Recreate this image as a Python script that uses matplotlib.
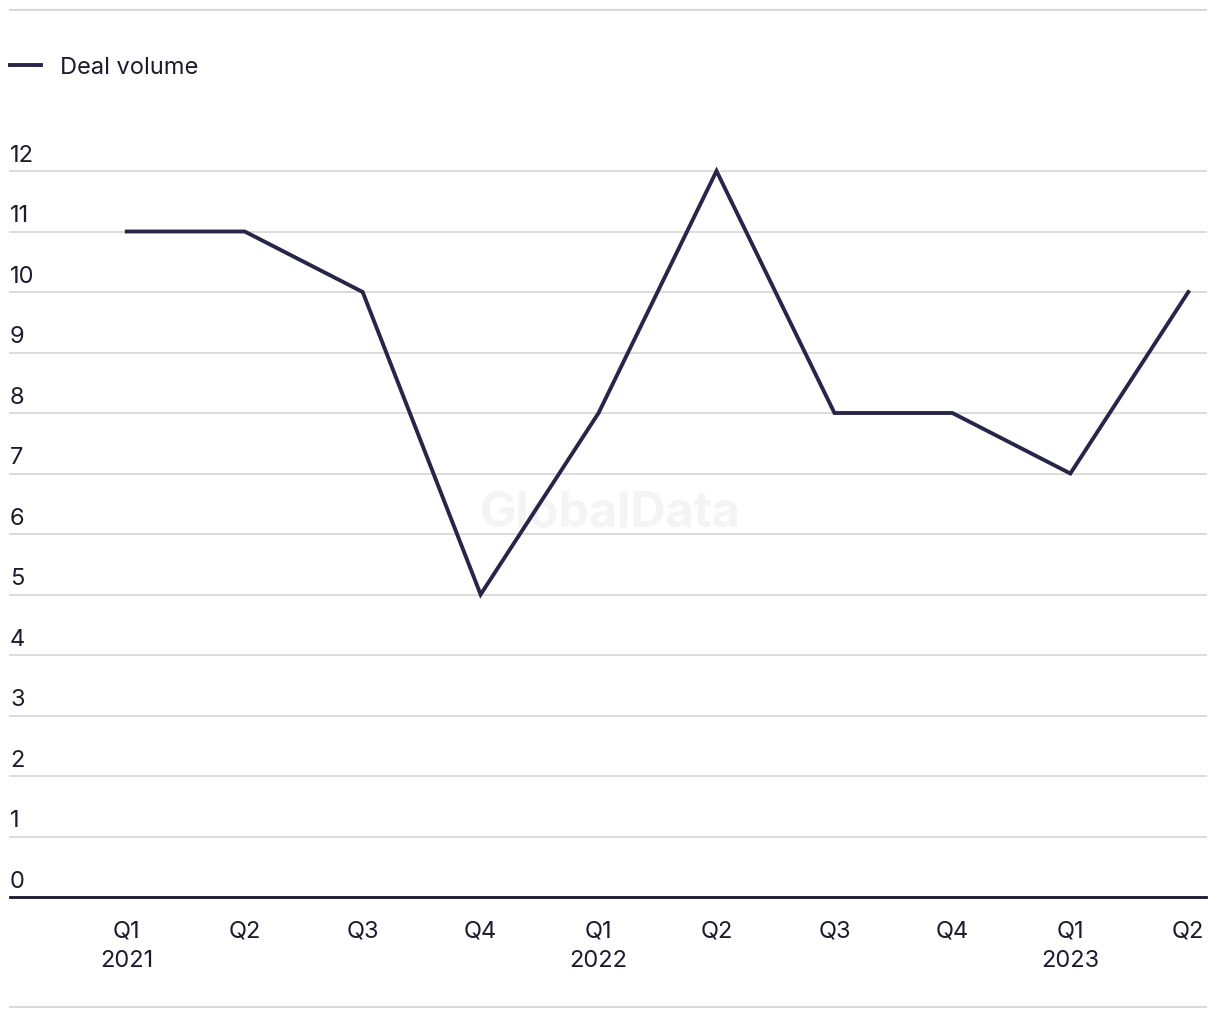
import matplotlib.pyplot as plt
from matplotlib.lines import Line2D
from matplotlib import transforms

plt.rcParams["font.family"] = ["Inter", "DejaVu Sans"]

quarters = ["Q1\n2021", "Q2", "Q3", "Q4", "Q1\n2022", "Q2", "Q3", "Q4", "Q1\n2023", "Q2"]
deal_volume = [11, 11, 10, 5, 8, 12, 8, 8, 7, 10]
y_ticks = list(range(0, 13))

line_color = "#27264a"
grid_color = "#d9d9d9"
text_color = "#1c1c2e"

W, H = 1220, 1020
fig = plt.figure(figsize=(W / 100, H / 100), dpi=100)
ax = fig.add_axes([10 / W, (H - 898) / H, (1206 - 10) / W, (898 - 172) / H])

x = list(range(len(quarters)))

# gridlines
for t in y_ticks[1:]:
    ax.axhline(t, color=grid_color, lw=1.3, zorder=1, clip_on=False)
ax.axhline(0, color="#16162a", lw=2, zorder=3, clip_on=False)

ax.plot(x, deal_volume, color=line_color, lw=2.8, zorder=4,
        solid_joinstyle="miter", clip_on=False, label="Deal volume")

ax.set_xlim(-0.99, 9.15)
ax.set_ylim(0, 12)

# y tick labels above the gridlines
trans = transforms.blended_transform_factory(ax.transAxes, ax.transData)
for t in y_ticks:
    ax.annotate(str(t), xy=(0, t), xycoords=trans, xytext=(0, 3.8),
                textcoords="offset points", ha="left", va="bottom",
                fontsize=17, color=text_color)
ax.set_yticks([])

ax.set_xticks(x)
ax.set_xticklabels(quarters, fontsize=17, color=text_color, linespacing=1.45)
ax.tick_params(axis="x", length=0, pad=16)

for s in ax.spines.values():
    s.set_visible(False)

# watermark
ax.text(0.5, 0.497, "GlobalData", transform=fig.transFigure, ha="center",
        va="center", fontsize=35, fontweight="bold", color="#f4f4f4", zorder=0)

# legend
fig.legend(loc="center left", bbox_to_anchor=(10 / W, (H - 68.5) / H),
           frameon=False, fontsize=17, handlelength=1.3, handletextpad=0.8,
           borderpad=0, borderaxespad=0, labelcolor=text_color)

# separator rules
fig.add_artist(Line2D([10 / W, 1206 / W], [(H - 11) / H] * 2, color=grid_color, lw=1.5))
fig.add_artist(Line2D([10 / W, 1206 / W], [(H - 1008) / H] * 2, color=grid_color, lw=1.5))

fig.savefig("out.png", dpi=100)
